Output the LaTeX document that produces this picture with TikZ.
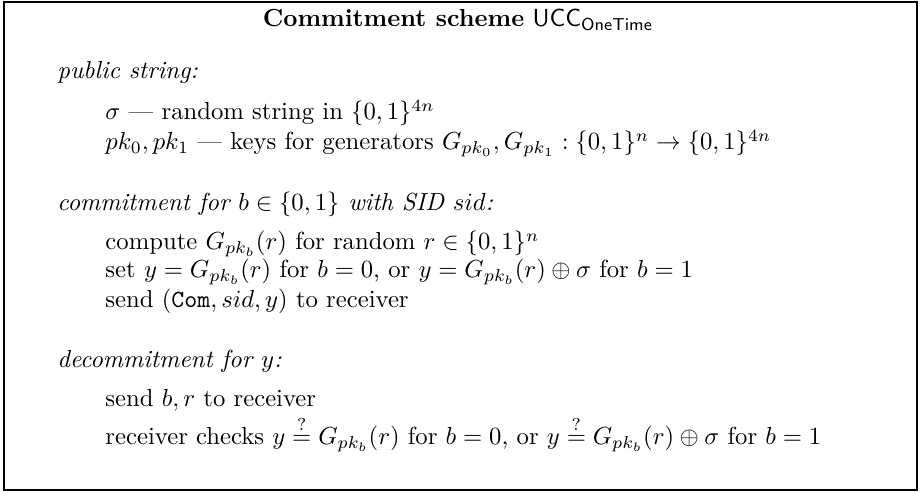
\documentclass[tikz,border=0pt]{standalone}
\usepackage{tikz}
\usetikzlibrary{positioning}

\tikzset{
  line/.style={anchor=base west,inner sep=0pt},
  head/.style={anchor=base west,inner sep=0pt,font=\itshape},
}

\begin{document}
\begin{tikzpicture}[x=0.405pt,y=-0.405pt]
\useasboundingbox (0,0) rectangle (922,492);
\draw[line width=0.7pt] (4,2) rectangle (917,490);

\node[inner sep=0pt,anchor=base] (title) at (458,27) {\textbf{Commitment scheme} $\mathsf{UCC}_{\mathsf{OneTime}}$};

\node[head] (pubhead) at (57,79) {public string:};
\node[line] (pubsigma) at (105,120) {$\sigma$ --- random string in $\{0,1\}^{4n}$};
\node[line] (pubkeys) at (105,150) {$pk_0, pk_1$ --- keys for generators $G_{pk_0}, G_{pk_1} : \{0,1\}^n \to \{0,1\}^{4n}$};

\node[head] (comhead) at (57,211) {commitment for $b \in \{0,1\}$ with SID $sid$:};
\node[line] (comcompute) at (105,250) {compute $G_{pk_b}(r)$ for random $r \in \{0,1\}^n$};
\node[line] (comset) at (105,278) {set $y = G_{pk_b}(r)$ for $b = 0$, or $y = G_{pk_b}(r) \oplus \sigma$ for $b = 1$};
\node[line] (comsend) at (105,308) {send $(\texttt{Com}, sid, y)$ to receiver};

\node[head] (dechead) at (57,368) {decommitment for $y$:};
\node[line] (decsend) at (105,407) {send $b, r$ to receiver};
\node[line] (deccheck) at (105,445) {receiver checks $y \stackrel{?}{=} G_{pk_b}(r)$ for $b = 0$, or $y \stackrel{?}{=} G_{pk_b}(r) \oplus \sigma$ for $b = 1$};
\end{tikzpicture}
\end{document}
